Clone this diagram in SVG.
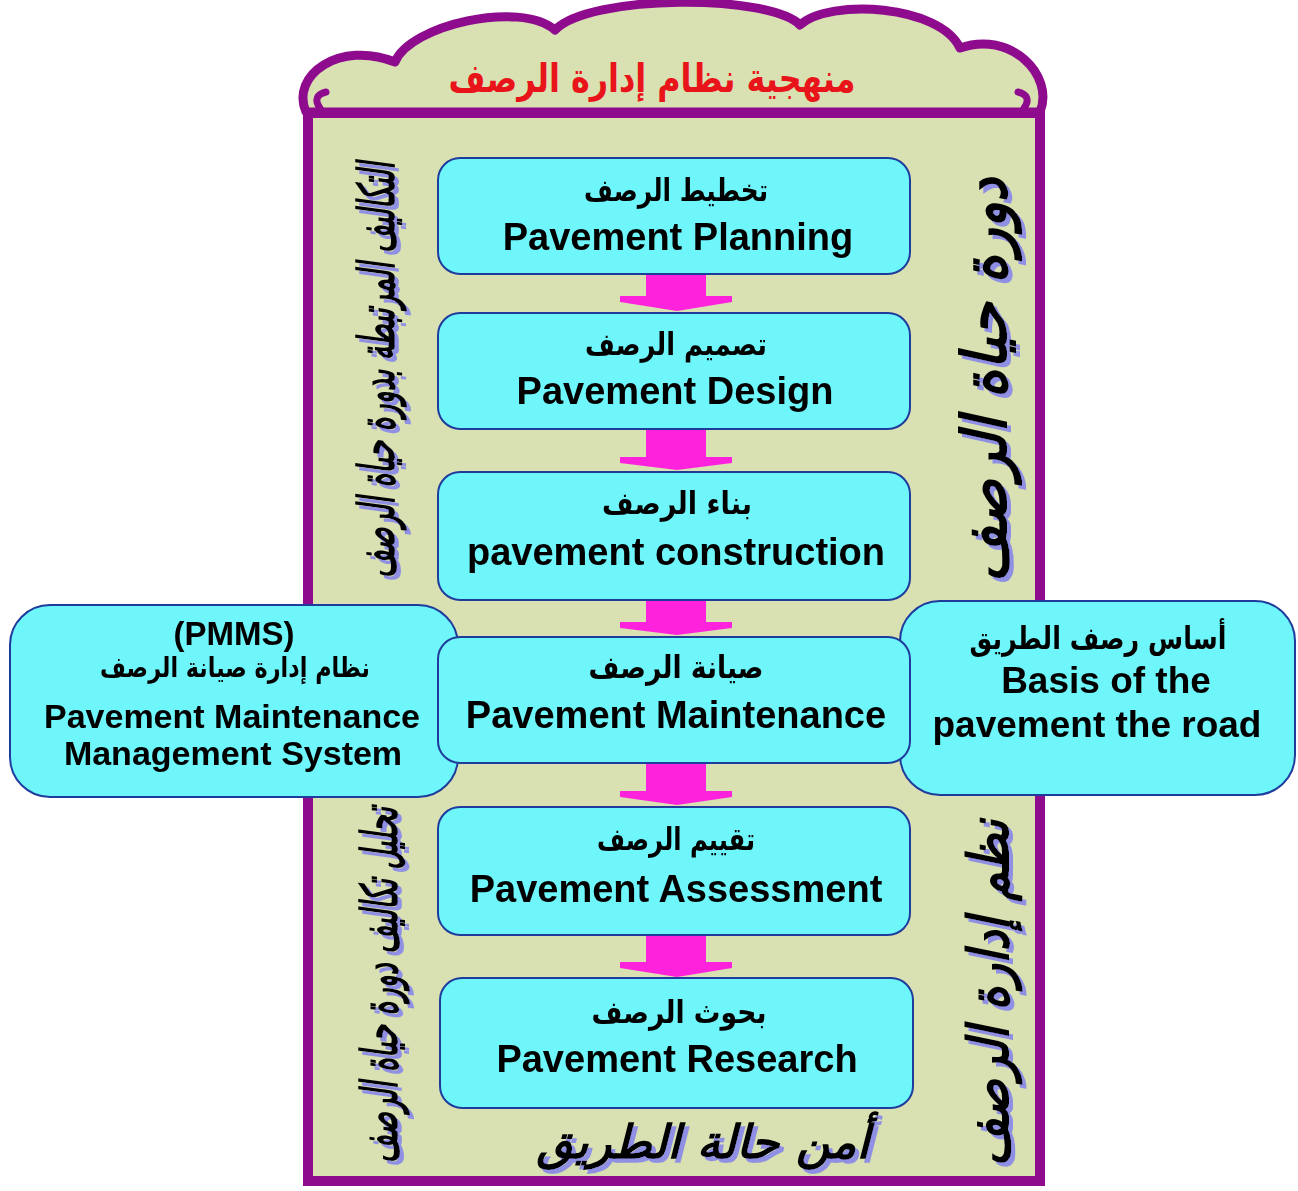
<svg xmlns="http://www.w3.org/2000/svg" width="1298" height="1191" viewBox="0 0 1298 1191">
<defs>
<filter id="shadow" x="-10%" y="-10%" width="130%" height="130%">
<feFlood flood-color="#8f8fe3" result="c"/>
<feComposite in="c" in2="SourceAlpha" operator="in" result="s"/>
<feOffset in="s" dx="4" dy="4" result="o"/>
<feMerge><feMergeNode in="o"/><feMergeNode in="SourceGraphic"/></feMerge>
</filter>
</defs>
<style>
.bg{fill:#ffffff}
.frame{fill:#d9e1b3;stroke:#8e0b8e;stroke-width:10}
.cloud{fill:#d9e1b3;stroke:#8e0b8e;stroke-width:9;stroke-linejoin:round}
.hook{fill:none;stroke:#8e0b8e;stroke-width:7;stroke-linecap:round}
.box{fill:#6ff6fb;stroke:#1f3c9c;stroke-width:2}
.arrow{fill:#ff22dd}
.en{font-family:"Liberation Sans",Arial,sans-serif;font-weight:bold;fill:#000;text-anchor:middle}
.ar{font-family:"DejaVu Sans",sans-serif;font-weight:bold;fill:#000;text-anchor:middle}
.title{font-family:"DejaVu Sans",sans-serif;font-weight:bold;fill:#e8141a;text-anchor:middle}
.cal{font-family:"DejaVu Sans",sans-serif;font-weight:bold;font-style:italic;fill:#000;text-anchor:middle}
</style>
<rect class="bg" x="0" y="0" width="1298" height="1191"/>
<g id="frame">
<path class="cloud" d="M306,112 C290,75 340,40 395,62 C410,25 520,0 555,30 C590,-6 770,-6 800,25 C830,-2 940,5 960,48 C1010,30 1055,75 1040,112 Z"/>
<path class="hook" d="M320,108 C314,100 317,94 326,92"/>
<path class="hook" d="M1024,108 C1030,100 1027,94 1018,92"/>
<rect class="frame" x="308" y="113" width="732" height="1068"/>
</g>
<g id="title">
<text class="title" x="652" y="92" font-size="40" textLength="407" lengthAdjust="spacingAndGlyphs">منهجية نظام إدارة الرصف</text>
</g>
<g id="side-labels" filter="url(#shadow)">
<text class="cal" transform="translate(378,370) rotate(-90)" x="0" y="16" font-size="50" textLength="416" lengthAdjust="spacingAndGlyphs">التكاليف المرتبطة بدورة حياة الرصف</text>
<text class="cal" transform="translate(986,380) rotate(-90)" x="0" y="20" font-size="62" textLength="405" lengthAdjust="spacingAndGlyphs">دورة حياة الرصف</text>
<text class="cal" transform="translate(381,985) rotate(-90)" x="0" y="16" font-size="50" textLength="356" lengthAdjust="spacingAndGlyphs">تحليل تكاليف دورة حياة الرصف</text>
<text class="cal" transform="translate(990,993) rotate(-90)" x="0" y="18" font-size="56" textLength="347" lengthAdjust="spacingAndGlyphs">نظم إدارة الرصف</text>
<text class="cal" x="703" y="1158" font-size="46" textLength="333" lengthAdjust="spacingAndGlyphs">أمن حالة الطريق</text>
</g>
<g id="connectors">
<polygon class="arrow" points="646,274 706,274 706,296 732,296 732,302 677,311 620,302 620,296 646,296"/>
<polygon class="arrow" points="646,429 706,429 706,457 732,457 732,463 677,470 620,463 620,457 646,457"/>
<polygon class="arrow" points="646,600 706,600 706,622 732,622 732,628 677,635 620,628 620,622 646,622"/>
<polygon class="arrow" points="646,763 706,763 706,791 732,791 732,797 677,805 620,797 620,791 646,791"/>
<polygon class="arrow" points="646,935 706,935 706,962 732,962 732,968 677,977 620,968 620,962 646,962"/>
</g>
<g id="pmms">
<rect class="box" x="10" y="605" width="448" height="192" rx="40"/>
<text class="en" x="234" y="645" font-size="33">(PMMS)</text>
<text class="ar" x="235" y="677" font-size="28" textLength="270" lengthAdjust="spacingAndGlyphs">نظام إدارة صيانة الرصف</text>
<text class="en" x="232" y="728" font-size="34">Pavement Maintenance</text>
<text class="en" x="233" y="765" font-size="34">Management System</text>
</g>
<g id="basis">
<rect class="box" x="900" y="601" width="395" height="194" rx="40"/>
<text class="ar" x="1098" y="649" font-size="31" textLength="257" lengthAdjust="spacingAndGlyphs">أساس رصف الطريق</text>
<text class="en" x="1106" y="693" font-size="37">Basis of the</text>
<text class="en" x="1097" y="737" font-size="37">pavement the road</text>
</g>
<g id="planning">
<rect class="box" x="438" y="158" width="472" height="116" rx="22"/>
<text class="ar" x="676" y="201" font-size="31" textLength="184" lengthAdjust="spacingAndGlyphs">تخطيط الرصف</text>
<text class="en" x="678" y="250" font-size="38">Pavement Planning</text>
</g>
<g id="design">
<rect class="box" x="438" y="313" width="472" height="116" rx="22"/>
<text class="ar" x="676" y="355" font-size="31" textLength="182" lengthAdjust="spacingAndGlyphs">تصميم الرصف</text>
<text class="en" x="675" y="404" font-size="38">Pavement Design</text>
</g>
<g id="construction">
<rect class="box" x="438" y="472" width="472" height="128" rx="22"/>
<text class="ar" x="677" y="514" font-size="31" textLength="150" lengthAdjust="spacingAndGlyphs">بناء الرصف</text>
<text class="en" x="676" y="565" font-size="38">pavement construction</text>
</g>
<g id="maintenance">
<rect class="box" x="438" y="637" width="472" height="126" rx="22"/>
<text class="ar" x="676" y="678" font-size="31" textLength="175" lengthAdjust="spacingAndGlyphs">صيانة الرصف</text>
<text class="en" x="676" y="728" font-size="38">Pavement Maintenance</text>
</g>
<g id="assessment">
<rect class="box" x="438" y="807" width="472" height="128" rx="22"/>
<text class="ar" x="676" y="850" font-size="31" textLength="158" lengthAdjust="spacingAndGlyphs">تقييم الرصف</text>
<text class="en" x="676" y="902" font-size="38">Pavement Assessment</text>
</g>
<g id="research">
<rect class="box" x="440" y="978" width="473" height="130" rx="22"/>
<text class="ar" x="679" y="1023" font-size="31" textLength="175" lengthAdjust="spacingAndGlyphs">بحوث الرصف</text>
<text class="en" x="677" y="1072" font-size="38">Pavement Research</text>
</g>
</svg>
